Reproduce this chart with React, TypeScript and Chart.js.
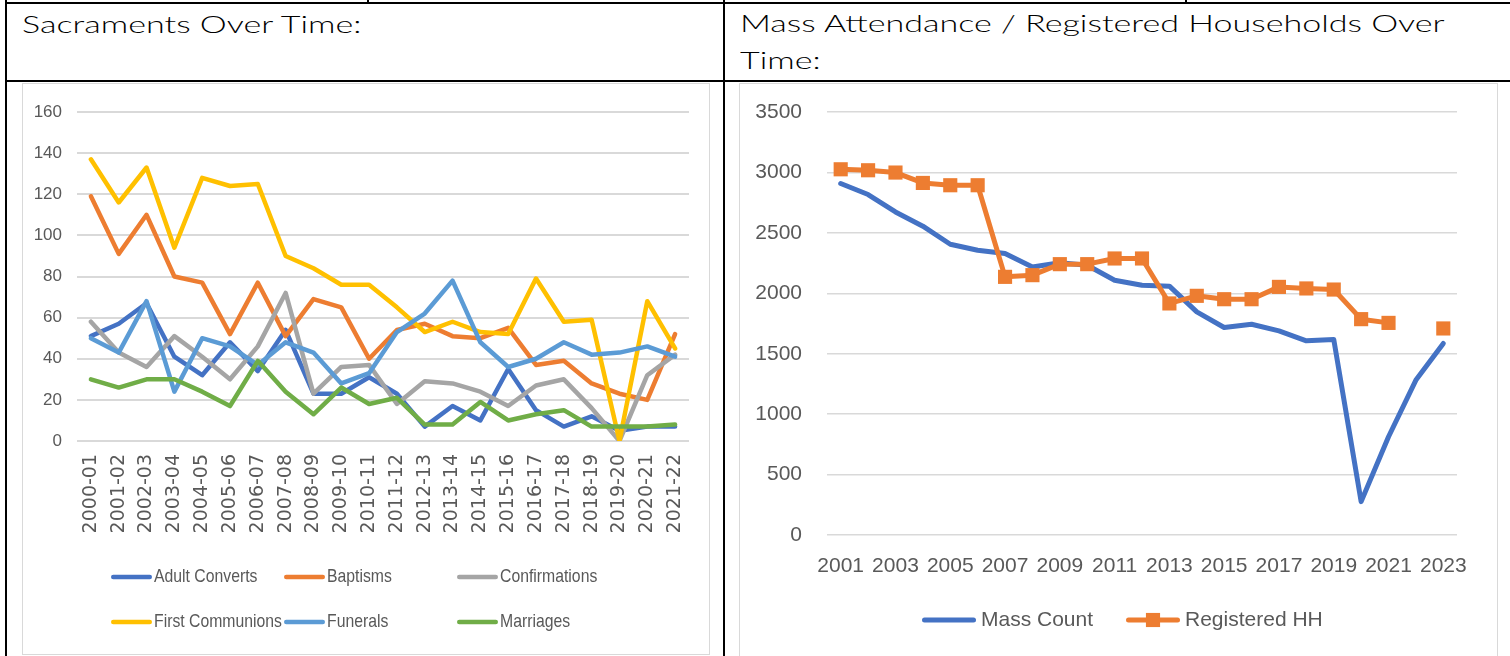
import React, { useEffect, useRef } from 'react';
import { Chart, registerables } from 'chart.js';

Chart.register(...registerables);

// ---------- Data: Sacraments Over Time ----------
const sacramentYears = [
  '2000-01', '2001-02', '2002-03', '2003-04', '2004-05', '2005-06', '2006-07', '2007-08',
  '2008-09', '2009-10', '2010-11', '2011-12', '2012-13', '2013-14', '2014-15', '2015-16',
  '2016-17', '2017-18', '2018-19', '2019-20', '2020-21', '2021-22',
];
const adultConverts = [51, 57, 67, 41, 32, 48, 34, 54, 23, 23, 31, 23, 7, 17, 10, 35, 15, 7, 12, 5, 7, 7];
const baptisms = [119, 91, 110, 80, 77, 52, 77, 51, 69, 65, 40, 54, 57, 51, 50, 55, 37, 39, 28, 23, 20, 52];
const confirmations = [58, 43, 36, 51, 41, 30, 46, 72, 23, 36, 37, 18, 29, 28, 24, 17, 27, 30, 16, 0, 32, 42];
const firstCommunions = [137, 116, 133, 94, 128, 124, 125, 90, 84, 76, 76, 65, 53, 58, 53, 52, 79, 58, 59, 0, 68, 45];
const funerals = [50, 43, 68, 24, 50, 46, 37, 48, 43, 28, 33, 53, 62, 78, 48, 36, 40, 48, 42, 43, 46, 41];
const marriages = [30, 26, 30, 30, 24, 17, 39, 24, 13, 26, 18, 21, 8, 8, 19, 10, 13, 15, 7, 7, 7, 8];
const sacramentTicks = [0, 20, 40, 60, 80, 100, 120, 140, 160];

// ---------- Data: Mass Attendance / Registered Households ----------
const massYears = [
  '2001', '2002', '2003', '2004', '2005', '2006', '2007', '2008', '2009', '2010', '2011', '2012',
  '2013', '2014', '2015', '2016', '2017', '2018', '2019', '2020', '2021', '2022', '2023',
];
const massCount = [2908, 2817, 2673, 2555, 2406, 2356, 2329, 2218, 2252, 2232, 2108, 2067, 2059, 1846, 1717, 1744, 1689, 1607, 1618, 276, 813, 1282, 1585];
const registeredHH = [3026, 3018, 2999, 2913, 2894, 2894, 2136, 2150, 2241, 2241, 2288, 2288, 1916, 1979, 1951, 1951, 2053, 2040, 2031, 1786, 1755, null, 1709];
const massTicks = [0, 500, 1000, 1500, 2000, 2500, 3000, 3500];

const TEXT = '#595959';
const GRID = '#D9D9D9';
const SANS = "'Liberation Sans', Arial, sans-serif";

const gridLegend = {
  id: 'gridLegend',
  afterDraw(chart: any, _args: any, opts: any) {
    const ctx = chart.ctx;
    ctx.save();
    ctx.font = opts.font;
    ctx.textBaseline = 'middle';
    ctx.textAlign = 'left';
    chart.data.datasets.forEach((ds: any, i: number) => {
      const p = opts.positions[i];
      if (!p) return;
      ctx.strokeStyle = ds.borderColor;
      ctx.lineWidth = opts.lineWidth;
      ctx.lineCap = 'round';
      ctx.beginPath();
      ctx.moveTo(p.x + opts.lineWidth / 2, p.y);
      ctx.lineTo(p.x + opts.lineLength - opts.lineWidth / 2, p.y);
      ctx.stroke();
      if (ds.pointStyle === 'rect' && ds.pointRadius > 0) {
        const s = ds.pointRadius * Math.SQRT1_2;
        ctx.fillStyle = ds.pointBackgroundColor;
        ctx.fillRect(p.x + opts.lineLength / 2 - s, p.y - s, 2 * s, 2 * s);
      }
      ctx.fillStyle = opts.color;
      const tx = p.x + opts.lineLength + opts.gap;
      ctx.save();
      ctx.translate(tx, p.y);
      ctx.scale(opts.textScaleX || 1, 1);
      ctx.fillText(ds.label, 0, 0);
      ctx.restore();
    });
    ctx.restore();
  },
};

function lineDs(label: string, data: (number | null)[], color: string, order: number, width = 4.5) {
  return {
    label,
    data,
    borderColor: color,
    backgroundColor: color,
    borderWidth: width,
    pointRadius: 0,
    tension: 0,
    borderJoinStyle: 'round',
    borderCapStyle: 'round',
    order,
    fill: false,
  };
}

function sacramentsConfig(): any {
  return {
    type: 'line',
    data: {
      labels: sacramentYears,
      datasets: [
        lineDs('Adult Converts', adultConverts, '#4472C4', 5),
        lineDs('Baptisms', baptisms, '#ED7D31', 4),
        lineDs('Confirmations', confirmations, '#A5A5A5', 3),
        lineDs('First Communions', firstCommunions, '#FFC000', 2),
        lineDs('Funerals', funerals, '#5B9BD5', 1),
        lineDs('Marriages', marriages, '#70AD47', 0),
      ],
    },
    options: {
      responsive: false,
      animation: false,
      events: [],
      layout: { padding: { top: 28, right: 20, left: 0, bottom: 0 } },
      plugins: {
        legend: { display: false },
        tooltip: { enabled: false },
        gridLegend: {
          font: `19px ${SANS}`,
          color: TEXT,
          lineWidth: 4.5,
          lineLength: 41,
          gap: 2,
          textScaleX: 0.83,
          positions: [
            { x: 88, y: 493 }, { x: 261, y: 493 }, { x: 434, y: 493 },
            { x: 88, y: 538 }, { x: 261, y: 538 }, { x: 434, y: 538 },
          ],
        },
      },
      scales: {
        x: {
          offset: true,
          grid: { display: false, drawTicks: false },
          border: { display: false },
          afterFit: (s: any) => { s.height = 213; s.paddingLeft = 0; s.paddingRight = 0; },
          ticks: {
            autoSkip: false,
            minRotation: 90,
            maxRotation: 90,
            padding: 13,
            color: TEXT,
            font: { family: "'DejaVu Sans', sans-serif", size: 19 },
          },
        },
        y: {
          min: 0,
          max: 160,
          afterFit: (s: any) => { s.width = 54; s.paddingTop = 0; s.paddingBottom = 0; },
          afterBuildTicks: (s: any) => { s.ticks = sacramentTicks.map((v) => ({ value: v })); },
          grid: { color: GRID, lineWidth: 2, drawTicks: false },
          border: { display: false },
          ticks: { padding: 15, color: TEXT, font: { family: SANS, size: 17 } },
        },
      },
    },
    plugins: [gridLegend],
  };
}

function massConfig(): any {
  const blue = lineDs('Mass Count', massCount, '#4472C4', 1, 5);
  const orange: any = lineDs('Registered HH', registeredHH, '#ED7D31', 0, 5);
  orange.pointStyle = 'rect';
  orange.pointRadius = 10;
  orange.pointBorderWidth = 0;
  orange.pointBackgroundColor = '#ED7D31';
  orange.spanGaps = false;
  return {
    type: 'line',
    data: { labels: massYears, datasets: [blue, orange] },
    options: {
      responsive: false,
      animation: false,
      events: [],
      layout: { padding: { top: 28, right: 40, left: 0, bottom: 0 } },
      plugins: {
        legend: { display: false },
        tooltip: { enabled: false },
        gridLegend: {
          font: `21px ${SANS}`,
          color: TEXT,
          lineWidth: 5,
          lineLength: 54,
          gap: 5,
          positions: [{ x: 182, y: 536 }, { x: 386, y: 536 }],
        },
      },
      scales: {
        x: {
          offset: true,
          grid: { display: false, drawTicks: false },
          border: { display: false },
          afterFit: (s: any) => { s.height = 121; s.paddingLeft = 0; s.paddingRight = 0; },
          ticks: {
            autoSkip: false,
            maxRotation: 0,
            minRotation: 0,
            padding: 19,
            color: TEXT,
            font: { family: SANS, size: 21 },
            callback: (_v: any, i: number) => (i % 2 === 0 ? massYears[i] : ''),
          },
        },
        y: {
          min: 0,
          max: 3500,
          afterFit: (s: any) => { s.width = 87; s.paddingTop = 0; s.paddingBottom = 0; },
          afterBuildTicks: (s: any) => { s.ticks = massTicks.map((v) => ({ value: v })); },
          grid: { color: GRID, lineWidth: 1.5, drawTicks: false },
          border: { display: false },
          ticks: {
            padding: 25,
            color: TEXT,
            font: { family: SANS, size: 21 },
            callback: (v: any) => String(v),
          },
        },
      },
    },
    plugins: [gridLegend],
  };
}

function ChartBox(props: { left: number; top: number; width: number; height: number; make: () => any }) {
  const ref = useRef<HTMLCanvasElement>(null);
  useEffect(() => {
    const chart = new Chart(ref.current as HTMLCanvasElement, props.make());
    return () => chart.destroy();
  }, []);
  return (
    <div
      style={{
        position: 'absolute',
        left: props.left,
        top: props.top,
        width: props.width,
        height: props.height,
        border: '1px solid #D9D9D9',
        background: '#fff',
      }}
    >
      <canvas
        ref={ref}
        width={props.width}
        height={props.height}
        style={{ display: 'block', width: props.width, height: props.height }}
      />
    </div>
  );
}

const line = (left: number, top: number, width: number, height: number) => (
  <div style={{ position: 'absolute', left, top, width, height, background: '#000' }} />
);

const titleStyle: React.CSSProperties = {
  position: 'absolute',
  fontFamily: "Lato, 'Open Sans', sans-serif",
  fontWeight: 300,
  fontSize: 24,
  lineHeight: '37px',
  color: '#000',
  whiteSpace: 'nowrap',
  transformOrigin: 'left top',
  transform: 'scaleX(1.42)',
};

export default function App() {
  return (
    <div style={{ position: 'absolute', left: 0, top: 0, width: 1510, height: 656, overflow: 'hidden', background: '#fff' }}>
      {line(5, 2, 1505, 2)}
      {line(5, 0, 2, 656)}
      {line(723, 0, 2, 656)}
      {line(5, 80, 1505, 2)}
      {line(367, 0, 2, 3)}
      {line(1185, 0, 2, 3)}
      <div style={{ ...titleStyle, left: 22, top: 5 }}>Sacraments Over Time:</div>
      <div style={{ ...titleStyle, left: 740, top: 4 }}>
        Mass Attendance / Registered Households Over
        <br />
        Time:
      </div>
      <ChartBox left={22} top={83} width={686} height={570} make={sacramentsConfig} />
      <ChartBox left={739} top={83} width={757} height={572} make={massConfig} />
    </div>
  );
}
